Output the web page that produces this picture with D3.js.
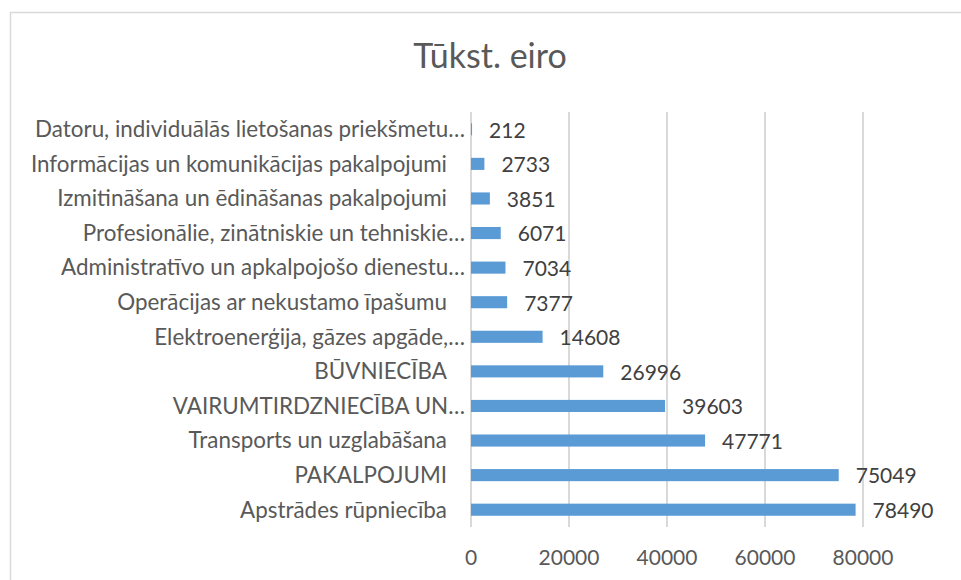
<!DOCTYPE html>
<meta charset="utf-8">
<style>
    body { margin: 0; background: #fff; }
    svg { font-family: Lato, sans-serif; }
    .grid line { stroke: #d9d9d9; stroke-width: 1.5; shape-rendering: crispEdges; }
    .cat text { fill: #595959; font-size: 22.4px; }
    .tick-label { fill: #595959; font-size: 21px; }
    .value { fill: #404040; font-size: 21px; }
</style>
<body>
<script src="https://cdn.jsdelivr.net/npm/d3@7"></script>
<script>
    // categories, top to bottom
    const categories = [
        "Datoru, individuālās lietošanas priekšmetu…",
        "Informācijas un komunikācijas pakalpojumi",
        "Izmitināšana un ēdināšanas pakalpojumi",
        "Profesionālie, zinātniskie un tehniskie…",
        "Administratīvo un apkalpojošo dienestu…",
        "Operācijas ar nekustamo īpašumu",
        "Elektroenerģija, gāzes apgāde,…",
        "BŪVNIECĪBA",
        "VAIRUMTIRDZNIECĪBA UN…",
        "Transports un uzglabāšana",
        "PAKALPOJUMI",
        "Apstrādes rūpniecība"
    ];
    const values = [212, 2733, 3851, 6071, 7034, 7377, 14608, 26996, 39603, 47771, 75049, 78490];
    const xTicks = [0, 20000, 40000, 60000, 80000];
    const title = "Tūkst. eiro";

    const width = 961, height = 580;

    const svg = d3.select("body").append("svg")
        .attr("width", width)
        .attr("height", height);

    // chart area border (runs off the right/bottom edge)
    svg.append("rect")
        .attr("x", 10.5).attr("y", 12.5)
        .attr("width", 1000).attr("height", 1000)
        .attr("fill", "none")
        .attr("stroke", "#d9d9d9")
        .attr("stroke-width", 1.5);

    svg.append("text")
        .attr("x", 490).attr("y", 68)
        .attr("text-anchor", "middle")
        .attr("fill", "#595959")
        .style("font-size", "34px")
        .text(title);

    const x = d3.scaleLinear().domain([0, 80000]).range([471, 863]);
    const y = d3.scaleBand()
        .domain(categories)
        .range([112, 527])
        .paddingInner(0.65)
        .paddingOuter(0.325);

    // gridlines
    svg.append("g").attr("class", "grid")
        .selectAll("line")
        .data(xTicks)
        .enter().append("line")
        .attr("x1", d => x(d)).attr("x2", d => x(d))
        .attr("y1", 112).attr("y2", 527);

    // x tick labels
    svg.append("g")
        .selectAll("text")
        .data(xTicks)
        .enter().append("text")
        .attr("class", "tick-label")
        .attr("x", d => x(d))
        .attr("y", 565)
        .attr("text-anchor", "middle")
        .text(d => d);

    // bars
    svg.append("g")
        .selectAll("rect")
        .data(values)
        .enter().append("rect")
        .attr("x", x(0))
        .attr("y", (d, i) => y(categories[i]))
        .attr("width", d => x(d) - x(0))
        .attr("height", y.bandwidth())
        .attr("fill", "#5b9bd5");

    // value labels
    svg.append("g")
        .selectAll("text")
        .data(values)
        .enter().append("text")
        .attr("class", "value")
        .attr("x", d => x(d) + 17)
        .attr("y", (d, i) => y(categories[i]) + y.bandwidth() / 2 + 1)
        .attr("dy", "0.35em")
        .text(d => d);

    // category labels; truncated ones run a bit further right
    svg.append("g").attr("class", "cat")
        .selectAll("text")
        .data(categories)
        .enter().append("text")
        .attr("x", d => d.endsWith("…") ? 465 : 447)
        .attr("y", d => y(d) + y.bandwidth() / 2)
        .attr("dy", "0.35em")
        .attr("text-anchor", "end")
        .text(d => d);
</script>
</body>
</html>
